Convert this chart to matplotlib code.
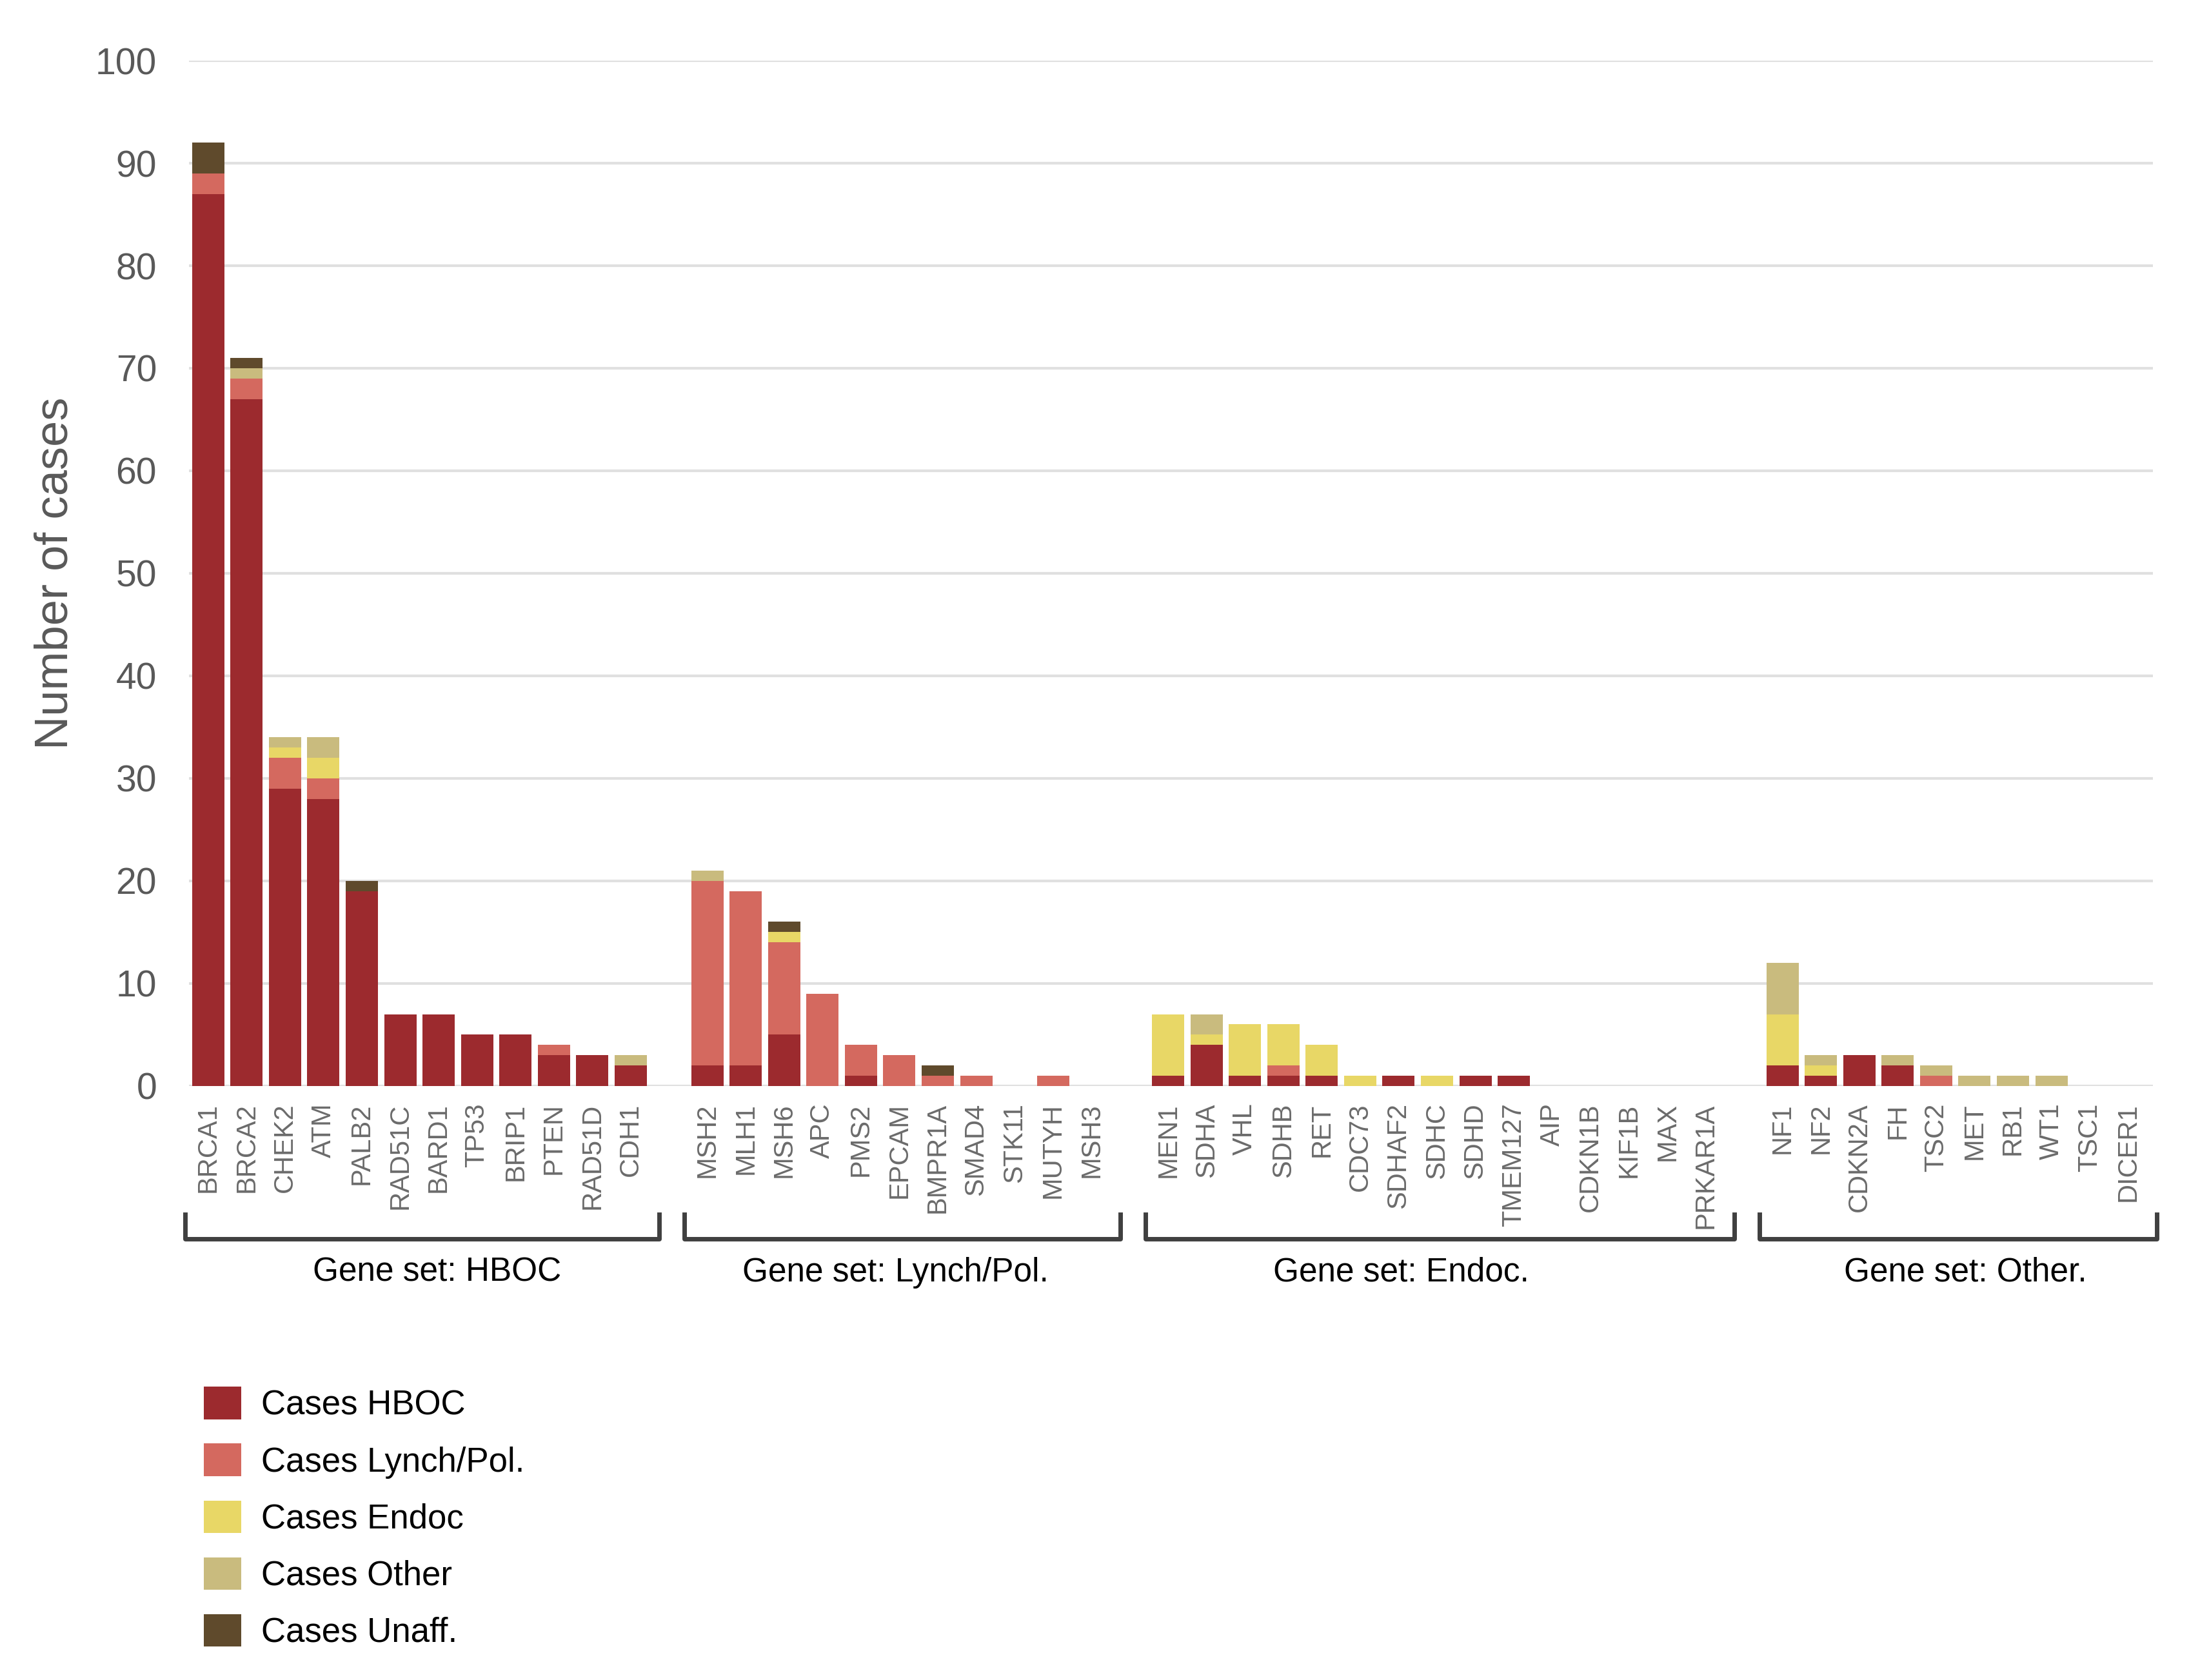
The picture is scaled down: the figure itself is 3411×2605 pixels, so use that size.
import numpy as np
import matplotlib.pyplot as plt
from matplotlib.patches import Patch

plt.rcParams['font.family'] = ['Liberation Sans', 'DejaVu Sans']

# gene sets and genes
groups = ['Gene set: HBOC', 'Gene set: Lynch/Pol.', 'Gene set: Endoc.', 'Gene set: Other.']
genes_hboc = ['BRCA1', 'BRCA2', 'CHEK2', 'ATM', 'PALB2', 'RAD51C', 'BARD1', 'TP53', 'BRIP1', 'PTEN', 'RAD51D', 'CDH1']
genes_lynch = ['MSH2', 'MLH1', 'MSH6', 'APC', 'PMS2', 'EPCAM', 'BMPR1A', 'SMAD4', 'STK11', 'MUTYH', 'MSH3']
genes_endoc = ['MEN1', 'SDHA', 'VHL', 'SDHB', 'RET', 'CDC73', 'SDHAF2', 'SDHC', 'SDHD', 'TMEM127',
               'AIP', 'CDKN1B', 'KIF1B', 'MAX', 'PRKAR1A']
genes_other = ['NF1', 'NF2', 'CDKN2A', 'FH', 'TSC2', 'MET', 'RB1', 'WT1', 'TSC1', 'DICER1']

# case counts, in gene order (HBOC set, Lynch set, Endoc set, Other set)
cases_hboc = [87, 67, 29, 28, 19, 7, 7, 5, 5, 3, 3, 2,
              2, 2, 5, 0, 1, 0, 0, 0, 0, 0, 0,
              1, 4, 1, 1, 1, 0, 1, 0, 1, 1, 0, 0, 0, 0, 0,
              2, 1, 3, 2, 0, 0, 0, 0, 0, 0]
cases_lynch = [2, 2, 3, 2, 0, 0, 0, 0, 0, 1, 0, 0,
               18, 17, 9, 9, 3, 3, 1, 1, 0, 1, 0,
               0, 0, 0, 1, 0, 0, 0, 0, 0, 0, 0, 0, 0, 0, 0,
               0, 0, 0, 0, 1, 0, 0, 0, 0, 0]
cases_endoc = [0, 0, 1, 2, 0, 0, 0, 0, 0, 0, 0, 0,
               0, 0, 1, 0, 0, 0, 0, 0, 0, 0, 0,
               6, 1, 5, 4, 3, 1, 0, 1, 0, 0, 0, 0, 0, 0, 0,
               5, 1, 0, 0, 0, 0, 0, 0, 0, 0]
cases_other = [0, 1, 1, 2, 0, 0, 0, 0, 0, 0, 0, 1,
               1, 0, 0, 0, 0, 0, 0, 0, 0, 0, 0,
               0, 2, 0, 0, 0, 0, 0, 0, 0, 0, 0, 0, 0, 0, 0,
               5, 1, 0, 1, 1, 1, 1, 1, 0, 0]
cases_unaff = [3, 1, 0, 0, 1, 0, 0, 0, 0, 0, 0, 0,
               0, 0, 1, 0, 0, 0, 1, 0, 0, 0, 0,
               0, 0, 0, 0, 0, 0, 0, 0, 0, 0, 0, 0, 0, 0, 0,
               0, 0, 0, 0, 0, 0, 0, 0, 0, 0]

series_labels = ['Cases HBOC', 'Cases Lynch/Pol.', 'Cases Endoc', 'Cases Other', 'Cases Unaff.']
colours = ['#9c2a2e', '#d4695f', '#e8d766', '#c9bb7e', '#5f4a2c']

gene_sets = [genes_hboc, genes_lynch, genes_endoc, genes_other]

# x positions: one empty slot between gene sets
xpos = []
labels = []
spans = []
start = 0
for gs in gene_sets:
    p = list(range(start, start + len(gs)))
    xpos += p
    labels += gs
    spans.append((p[0], p[-1]))
    start = p[-1] + 2
xpos = np.array(xpos)

# where the set names sit (data x), not quite centred under the brackets
label_x = [5.96, 17.9, 31.07, 45.76]

fig = plt.figure(figsize=(34.12, 26.05), dpi=100)
ax = fig.add_axes([0.0859, 0.3536, 0.8925, 0.6103])

data = [cases_hboc, cases_lynch, cases_endoc, cases_other, cases_unaff]
bottom = np.zeros(len(xpos))
for vals, col, lab in zip(data, colours, series_labels):
    vals = np.array(vals)
    ax.bar(xpos, vals, width=0.84, bottom=bottom, color=col, label=lab, zorder=3, linewidth=0)
    bottom += vals

ax.set_ylim(0, 100)
ax.set_xlim(-0.5, 50.65)
ax.set_yticks(np.arange(0, 101, 10))
ax.yaxis.grid(True, color='#e0e0e0', linewidth=3, zorder=0)
ax.set_axisbelow(True)
for s in ax.spines.values():
    s.set_visible(False)

ax.set_xticks(xpos)
ax.set_xticklabels(labels, rotation=90, fontsize=30, color='#6b6b6b')
ax.tick_params(axis='x', length=0, pad=19)
ax.tick_params(axis='y', length=0, pad=36, labelsize=41, labelcolor='#595959')

ax.set_ylabel('Number of cases', fontsize=52, color='#595959')
ax.yaxis.set_label_coords(-0.057, 0.5)

# gene set brackets below the tick labels
tr = ax.get_xaxis_transform()
for (a, b), name, lx in zip(spans, groups, label_x):
    x0 = a - 0.6
    x1 = b + 0.75
    ax.plot([x0, x0, x1, x1], [-0.125, -0.149, -0.149, -0.125], transform=tr,
            color='#404040', linewidth=5, clip_on=False, solid_joinstyle='round')
    ax.text(lx, -0.182, name, transform=tr, ha='center', va='center',
            fontsize=37, color='black')

handles = [Patch(facecolor=c, edgecolor='none', label=l) for c, l in zip(colours, series_labels)]
fig.legend(handles=handles, loc='upper left', bbox_to_anchor=(0.0925, 0.1745), frameon=False,
           fontsize=38, handlelength=1.1, handleheight=1.1, handletextpad=0.6,
           labelspacing=0.64, borderpad=0, borderaxespad=0)

plt.savefig('out.png', dpi=100)
